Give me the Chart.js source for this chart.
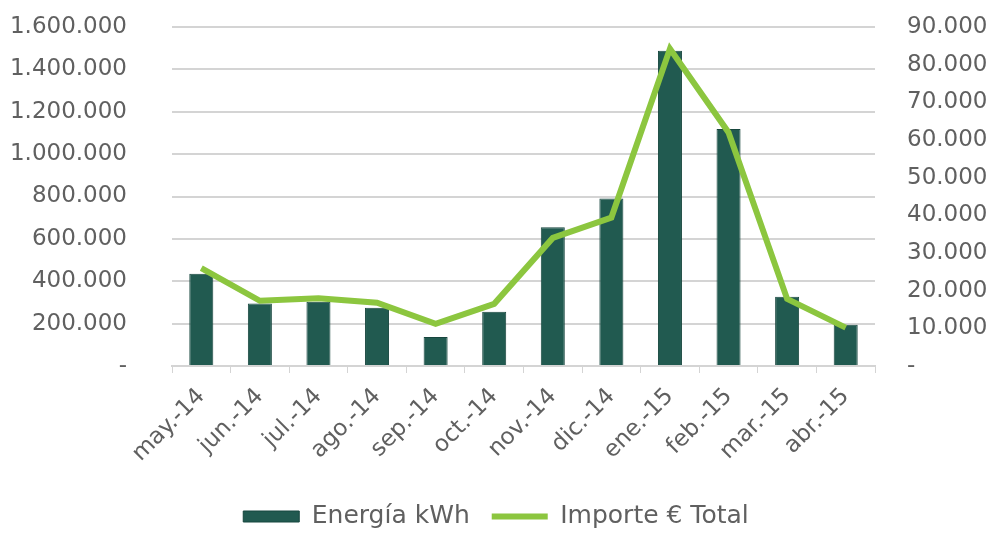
<!DOCTYPE html>
<html>
<head>
<meta charset="utf-8">
<script src="https://cdn.jsdelivr.net/npm/chart.js@4/dist/chart.umd.min.js"></script>
<style>
  html, body { margin: 0; padding: 0; background: #fff; }
  #wrap { width: 992px; height: 533px; position: relative; }
</style>
</head>
<body>
<div id="wrap"><canvas id="myChart"></canvas></div>
<script>
// months
var labels = ['may.-14', 'jun.-14', 'jul.-14', 'ago.-14', 'sep.-14', 'oct.-14',
              'nov.-14', 'dic.-14', 'ene.-15', 'feb.-15', 'mar.-15', 'abr.-15'];
// Energía kWh (left axis)
var energia = [435000, 295000, 303000, 275000, 137000, 256000,
               655000, 790000, 1488000, 1118000, 327000, 195000];
// Importe € Total (right axis)
var importe = [26000, 17300, 18000, 16800, 11200, 16500,
               34000, 39400, 84200, 62000, 17800, 10200];

var grey = '#606060';
var gridGrey = '#d4d4d4';
var tickFont = { family: 'DejaVu Sans', size: 23 };

// 1600000 -> "1.600.000", 0 -> "-"
function fmt(v) {
    if (v === 0) return '-';
    return String(v).replace(/\B(?=(\d{3})+(?!\d))/g, '.');
}

// keep the legend a fixed height so the labels sit near the bottom edge
var legendHeight = {
    id: 'legendHeight',
    afterInit: function(chart) {
        var lg = chart.legend;
        var origFit = lg.fit;
        lg.fit = function() {
            origFit.call(this);
            this.height = 51;
        };
    }
};

const ctx = document.getElementById('myChart');
const chart = new Chart(ctx, {
    data: {
        labels: labels,
        datasets: [
            {
                type: 'line',
                label: 'Importe € Total',
                data: importe,
                yAxisID: 'y1',
                borderColor: '#8cc63f',
                backgroundColor: '#8cc63f',
                borderWidth: 6,
                pointRadius: 0,
                pointStyle: 'line',
                tension: 0,
                order: 0
            },
            {
                type: 'bar',
                label: 'Energía kWh',
                data: energia,
                yAxisID: 'y',
                backgroundColor: '#215a50',
                borderColor: '#17463e',
                borderWidth: 1,
                pointStyle: 'rect',
                barPercentage: 0.41,
                categoryPercentage: 1,
                order: 1
            }
        ]
    },
    options: {
        responsive: true,
        maintainAspectRatio: false,
        animation: false,
        layout: { padding: { top: 27, left: 0, right: 0, bottom: 0 } },
        scales: {
            x: {
                grid: {
                    offset: true,
                    drawOnChartArea: false,
                    drawTicks: true,
                    tickLength: 7,
                    color: gridGrey
                },
                border: { color: gridGrey, width: 2 },
                ticks: {
                    color: grey,
                    font: tickFont,
                    minRotation: 45,
                    maxRotation: 45,
                    padding: 10
                },
                afterFit: function(scale) {
                    scale.height = 116;
                    scale.paddingLeft = 0;
                    scale.paddingRight = 0;
                }
            },
            y: {
                position: 'left',
                min: 0,
                max: 1600000,
                grid: { color: gridGrey, lineWidth: 2, drawTicks: false },
                border: { display: false },
                ticks: {
                    stepSize: 200000,
                    color: grey,
                    font: tickFont,
                    padding: 45,
                    callback: function(v) { return fmt(v); }
                },
                afterFit: function(scale) {
                    scale.width = 172;
                    scale.paddingTop = 0;
                    scale.paddingBottom = 0;
                }
            },
            y1: {
                position: 'right',
                min: 0,
                max: 90000,
                grid: { drawOnChartArea: false, drawTicks: false },
                border: { display: false },
                ticks: {
                    stepSize: 10000,
                    color: grey,
                    font: tickFont,
                    padding: 32,
                    callback: function(v) { return fmt(v); }
                },
                afterFit: function(scale) {
                    scale.width = 117;
                    scale.paddingTop = 0;
                    scale.paddingBottom = 0;
                }
            }
        },
        plugins: {
            legend: {
                position: 'bottom',
                reverse: true,
                labels: {
                    usePointStyle: true,
                    pointStyleWidth: 56,
                    boxHeight: 11,
                    color: grey,
                    font: { family: 'DejaVu Sans', size: 25 },
                    padding: 22
                }
            },
            tooltip: { enabled: false }
        }
    },
    plugins: [legendHeight]
});
</script>
</body>
</html>
